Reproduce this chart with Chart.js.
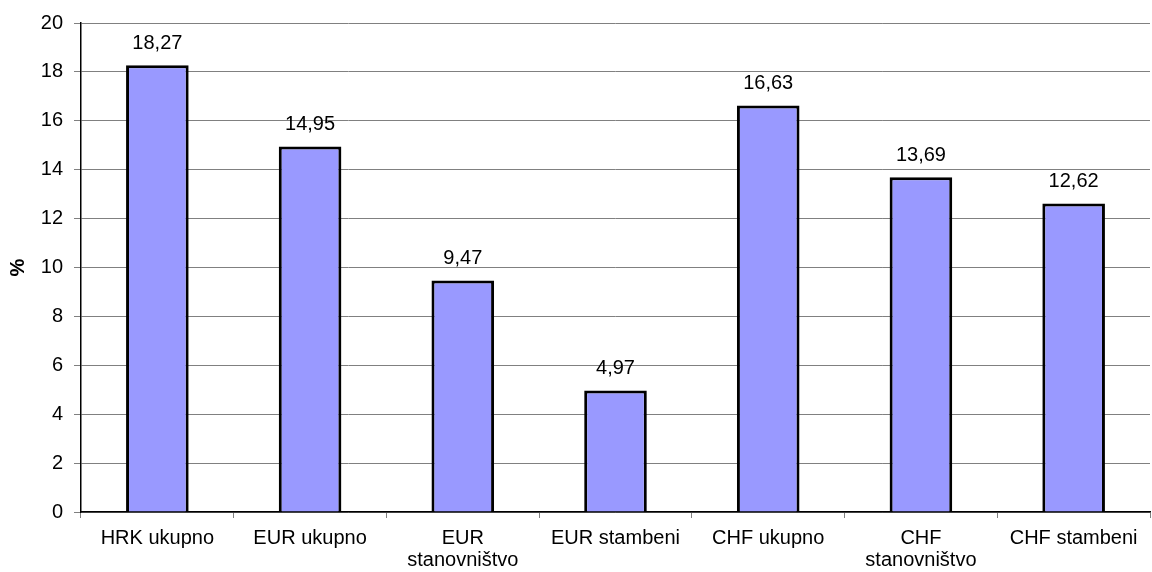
<!DOCTYPE html>
<html>
<head>
<meta charset="utf-8">
<script src="https://cdn.jsdelivr.net/npm/chart.js@4"></script>
<style>
  html, body { margin: 0; padding: 0; background: #fff; }
  #wrap { width: 1152px; height: 572px; }
</style>
</head>
<body>
<div id="wrap"><canvas id="barChart" width="1152" height="572"></canvas></div>
<script>
// chart data
const categories = ['HRK ukupno', 'EUR ukupno', ['EUR', 'stanovništvo'], 'EUR stambeni', 'CHF ukupno', ['CHF', 'stanovništvo'], 'CHF stambeni'];
const values = [18.27, 14.95, 9.47, 4.97, 16.63, 13.69, 12.62];
const yTicks = [0, 2, 4, 6, 8, 10, 12, 14, 16, 18, 20];

const fontFamily = '"Liberation Sans", Arial, sans-serif';

// draws the value above each bar, with decimal comma
const valueLabels = {
    id: 'valueLabels',
    afterDatasetsDraw(chart) {
        const ctx = chart.ctx;
        const meta = chart.getDatasetMeta(0);
        ctx.save();
        ctx.font = '20px ' + fontFamily;
        ctx.fillStyle = '#000';
        ctx.textAlign = 'center';
        ctx.textBaseline = 'alphabetic';
        meta.data.forEach((bar, i) => {
            const txt = values[i].toFixed(2).replace('.', ',');
            ctx.fillText(txt, bar.x, bar.y - 16);
        });
        ctx.restore();
    }
};

const ctx = document.getElementById('barChart').getContext('2d');
new Chart(ctx, {
    type: 'bar',
    data: {
        labels: categories,
        datasets: [{
            data: values,
            backgroundColor: '#9999ff',
            borderColor: '#000',
            borderWidth: 3,
            categoryPercentage: 1,
            barPercentage: 0.41
        }]
    },
    options: {
        responsive: false,
        animation: false,
        layout: { padding: { top: 22, right: 2, left: 0, bottom: 0 } },
        plugins: {
            legend: { display: false },
            tooltip: { enabled: false }
        },
        scales: {
            x: {
                offset: true,
                grid: {
                    offset: true,
                    drawOnChartArea: false,
                    drawTicks: true,
                    tickLength: 6,
                    color: '#808080'
                },
                border: { color: '#000', width: 1.5 },
                ticks: {
                    color: '#000',
                    font: { family: fontFamily, size: 20, lineHeight: 1.1 },
                    maxRotation: 0,
                    autoSkip: false,
                    padding: 9
                },
                afterFit(scale) { scale.height = 60; }
            },
            y: {
                min: 0,
                max: 20,
                afterBuildTicks(scale) { scale.ticks = yTicks.map(v => ({ value: v })); },
                grid: {
                    color: '#808080',
                    lineWidth: 1,
                    tickLength: 7
                },
                border: { color: '#000', width: 1.5 },
                ticks: {
                    color: '#000',
                    font: { family: fontFamily, size: 20 },
                    padding: 11
                },
                title: {
                    display: true,
                    text: '%',
                    color: '#000',
                    font: { family: fontFamily, size: 20, weight: 'bold' },
                    padding: { top: 6, bottom: 0 }
                },
                afterFit(scale) { scale.width = 81; }
            }
        }
    },
    plugins: [valueLabels]
});
</script>
</body>
</html>
